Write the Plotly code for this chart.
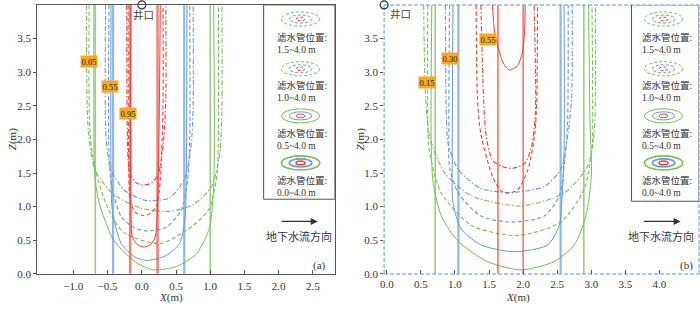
import plotly.graph_objects as go

# ---------------- data ----------------
# Panel (a): contours for the four filter positions; thick lines = 0.0~4.0 m
A_THICK_GREEN = [-0.68, 1.00]
A_THICK_BLUE = [-0.42, 0.62]
A_THICK_RED = [-0.17, 0.23]

A_GREEN_05_X = [-0.70, -0.70, -0.69, -0.63, -0.41, -0.07, 0.17, 0.51, 0.80, 0.99, 1.05, 1.06, 1.05]
A_GREEN_05_Z = [4.00, 2.20, 1.50, 1.08, 0.50, 0.16, 0.06, 0.11, 0.30, 0.69, 1.30, 2.20, 4.00]
A_GREEN_10_X = [-0.77, -0.76, -0.70, -0.51, -0.27, 0.27, 0.75, 0.99, 1.10, 1.12, 1.12]
A_GREEN_10_Z = [4.00, 2.17, 1.64, 1.01, 0.62, 0.45, 0.72, 0.98, 1.50, 2.30, 4.00]
A_GREEN_15_X = [-0.81, -0.78, -0.68, -0.41, -0.02, 0.40, 0.75, 1.02, 1.14, 1.17, 1.17]
A_GREEN_15_Z = [4.00, 2.10, 1.54, 1.18, 0.98, 0.93, 1.03, 1.30, 1.80, 2.40, 4.00]

A_BLUE_05_X = [-0.45, -0.45, -0.43, -0.30, -0.10, 0.07, 0.35, 0.55, 0.63, 0.65, 0.66]
A_BLUE_05_Z = [4.00, 1.50, 0.94, 0.45, 0.25, 0.20, 0.27, 0.45, 0.80, 1.50, 4.00]
A_BLUE_10_X = [-0.48, -0.48, -0.44, -0.30, -0.10, 0.07, 0.35, 0.58, 0.67, 0.70, 0.70]
A_BLUE_10_Z = [4.00, 1.80, 1.30, 0.85, 0.68, 0.64, 0.69, 0.95, 1.40, 2.00, 4.00]
A_BLUE_15_X = [-0.53, -0.52, -0.45, -0.25, 0.07, 0.40, 0.62, 0.72, 0.75, 0.75]
A_BLUE_15_Z = [4.00, 2.00, 1.55, 1.24, 1.09, 1.13, 1.40, 1.90, 2.50, 4.00]

A_RED_05_X = [-0.16, -0.16, -0.14, -0.07, 0.02, 0.12, 0.19, 0.22, 0.25, 0.27]
A_RED_05_Z = [4.00, 0.90, 0.56, 0.44, 0.40, 0.43, 0.53, 0.80, 2.00, 4.00]
A_RED_10_X = [-0.20, -0.19, -0.17, -0.09, 0.02, 0.13, 0.22, 0.27, 0.31, 0.31]
A_RED_10_Z = [4.00, 1.50, 1.08, 0.91, 0.87, 0.90, 1.02, 1.40, 2.50, 4.00]
A_RED_15_X = [-0.22, -0.21, -0.18, -0.09, 0.02, 0.14, 0.24, 0.31, 0.35, 0.35]
A_RED_15_Z = [4.00, 2.00, 1.52, 1.36, 1.32, 1.35, 1.48, 1.90, 2.60, 4.00]

# Panel (b)
B_THICK_GREEN = [0.71, 2.89]
B_THICK_BLUE = [1.05, 2.55]
B_THICK_RED = [1.63, 2.00]

B_GREEN_05_X = [0.66, 0.65, 0.68, 0.80, 1.05, 1.48, 1.97, 2.45, 2.75, 2.92, 3.00, 2.98, 2.96]
B_GREEN_05_Z = [4.00, 2.00, 1.35, 0.86, 0.48, 0.18, 0.06, 0.18, 0.43, 0.86, 1.45, 2.30, 4.00]
B_GREEN_10_X = [0.60, 0.60, 0.62, 0.80, 1.24, 1.92, 2.55, 2.89, 3.01, 3.02, 3.01]
B_GREEN_10_Z = [4.00, 2.30, 1.84, 1.20, 0.72, 0.57, 0.77, 1.25, 1.84, 2.50, 4.00]
B_GREEN_15_X = [0.54, 0.57, 0.63, 0.85, 1.24, 1.97, 2.60, 2.94, 3.04, 3.06, 3.06]
B_GREEN_15_Z = [4.00, 2.60, 2.03, 1.50, 1.16, 1.01, 1.20, 1.59, 2.08, 2.60, 4.00]

B_BLUE_05_X = [0.97, 0.96, 0.97, 1.09, 1.38, 1.87, 2.36, 2.53, 2.57, 2.60, 2.60]
B_BLUE_05_Z = [4.00, 1.80, 1.06, 0.67, 0.43, 0.33, 0.43, 0.72, 1.11, 1.80, 4.00]
B_BLUE_10_X = [0.92, 0.91, 0.92, 1.05, 1.38, 1.82, 2.31, 2.53, 2.60, 2.65, 2.66]
B_BLUE_10_Z = [4.00, 2.20, 1.59, 1.20, 0.86, 0.77, 0.86, 1.16, 1.59, 2.20, 4.00]
B_BLUE_15_X = [0.86, 0.87, 0.90, 1.05, 1.38, 1.82, 2.31, 2.55, 2.65, 2.71, 2.72]
B_BLUE_15_Z = [4.00, 2.50, 1.93, 1.55, 1.27, 1.21, 1.30, 1.55, 2.03, 2.60, 4.00]

B_RED_05_X = [1.55, 1.58, 1.63, 1.70, 1.80, 1.92, 1.99, 2.02, 2.03]
B_RED_05_Z = [4.00, 3.60, 3.39, 3.15, 3.03, 3.10, 3.30, 3.60, 4.00]
B_RED_10_X = [1.31, 1.33, 1.38, 1.55, 1.68, 1.77, 1.92, 2.07, 2.17, 2.20, 2.21]
B_RED_10_Z = [4.00, 2.60, 2.08, 1.45, 1.23, 1.20, 1.25, 1.55, 2.08, 2.60, 4.00]
B_RED_15_X = [1.38, 1.42, 1.46, 1.55, 1.68, 1.84, 2.02, 2.12, 2.18, 2.16]
B_RED_15_Z = [4.00, 2.60, 2.03, 1.69, 1.60, 1.57, 1.64, 1.88, 2.40, 4.00]

A_LABELS = ["0.05", "0.55", "0.95"]
A_LABEL_X = [-0.77, -0.47, -0.20]
A_LABEL_Z = [3.16, 2.78, 2.39]
B_LABELS = ["0.15", "0.30", "0.55"]
B_LABEL_X = [0.59, 0.93, 1.49]
B_LABEL_Z = [2.85, 3.21, 3.49]

FILTER_TEXT = ["1.5~4.0 m", "1.0~4.0 m", "0.5~4.0 m", "0.0~4.0 m"]
A_TICKS = [-1.0, -0.5, 0.0, 0.5, 1.0, 1.5, 2.0, 2.5]
B_TICKS = [0.0, 0.5, 1.0, 1.5, 2.0, 2.5, 3.0, 3.5, 4.0]
Z_TICKS = [0.0, 0.5, 1.0, 1.5, 2.0, 2.5, 3.0, 3.5]

# ---------------- styles ----------------
GREEN = "rgb(122,190,88)"
BLUE = "rgb(104,154,214)"
RED = "rgb(236,66,56)"
GREEN_T = "rgba(122,190,88,0.75)"
BLUE_T = "rgba(104,154,214,0.7)"
RED_T = "rgba(236,66,56,0.65)"
DASH10 = "4px,2.5px"
DASH15 = "5px,2px,1.5px,2px"
SERIF = "Liberation Serif, Noto Sans CJK SC"
CJK = "Noto Sans CJK SC"
TXT = "#333333"

fig = go.Figure()


def curve(xs, zs, color, dash, width, xr, yr):
    fig.add_trace(go.Scatter(x=xs, y=zs, mode="lines", xaxis=xr, yaxis=yr,
                             line=dict(color=color, dash=dash, width=width,
                                       shape="spline", smoothing=0.7),
                             hoverinfo="skip"))


def thick(xs, color, width, xr, yr):
    for xv in xs:
        fig.add_trace(go.Scatter(x=[xv, xv], y=[0.0, 4.0], mode="lines", xaxis=xr, yaxis=yr,
                                 line=dict(color=color, width=width), hoverinfo="skip"))


for (xr, yr, data) in [
    ("x", "y", [
        (A_GREEN_15_X, A_GREEN_15_Z, GREEN, DASH15, 1.1), (A_GREEN_10_X, A_GREEN_10_Z, GREEN, DASH10, 1.1),
        (A_GREEN_05_X, A_GREEN_05_Z, GREEN, "solid", 1.0),
        (A_BLUE_15_X, A_BLUE_15_Z, BLUE, DASH15, 1.1), (A_BLUE_10_X, A_BLUE_10_Z, BLUE, DASH10, 1.1),
        (A_BLUE_05_X, A_BLUE_05_Z, BLUE, "solid", 1.0),
        (A_RED_15_X, A_RED_15_Z, RED, DASH15, 1.1), (A_RED_10_X, A_RED_10_Z, RED, DASH10, 1.1),
        (A_RED_05_X, A_RED_05_Z, RED, "solid", 1.0)]),
    ("x2", "y2", [
        (B_GREEN_15_X, B_GREEN_15_Z, GREEN, DASH15, 1.1), (B_GREEN_10_X, B_GREEN_10_Z, GREEN, DASH10, 1.1),
        (B_GREEN_05_X, B_GREEN_05_Z, GREEN, "solid", 1.0),
        (B_BLUE_15_X, B_BLUE_15_Z, BLUE, DASH15, 1.1), (B_BLUE_10_X, B_BLUE_10_Z, BLUE, DASH10, 1.1),
        (B_BLUE_05_X, B_BLUE_05_Z, BLUE, "solid", 1.0),
        (B_RED_15_X, B_RED_15_Z, RED, DASH15, 1.1), (B_RED_10_X, B_RED_10_Z, RED, DASH10, 1.1),
        (B_RED_05_X, B_RED_05_Z, RED, "solid", 1.0)]),
]:
    for xs, zs, c, d, w in data:
        curve(xs, zs, c, d, w, xr, yr)

thick(A_THICK_GREEN, GREEN_T, 1.6, "x", "y")
thick(A_THICK_BLUE, BLUE_T, 2.2, "x", "y")
thick(A_THICK_RED, RED_T, 2.6, "x", "y")
thick(B_THICK_GREEN, GREEN_T, 1.6, "x2", "y2")
thick(B_THICK_BLUE, BLUE_T, 2.2, "x2", "y2")
thick(B_THICK_RED, RED_T, 1.8, "x2", "y2")

# well heads
fig.add_trace(go.Scatter(x=[0.0], y=[4.0], mode="markers", xaxis="x", yaxis="y", cliponaxis=False,
                         marker=dict(symbol="circle-open", size=8, color="#333", line=dict(width=1.2)),
                         hoverinfo="skip"))
fig.add_trace(go.Scatter(x=[-0.04], y=[4.0], mode="markers", xaxis="x2", yaxis="y2", cliponaxis=False,
                         marker=dict(symbol="circle-open", size=8, color="#333", line=dict(width=1.2)),
                         hoverinfo="skip"))

annotations = []
shapes = []

# contour value labels
for lab, lx, lz in zip(A_LABELS, A_LABEL_X, A_LABEL_Z):
    annotations.append(dict(x=lx, y=lz, xref="x", yref="y", text=lab, showarrow=False,
                            font=dict(family=SERIF, size=8.5, color="#222"), bgcolor="rgb(248,168,36)",
                            borderpad=0.5))
for lab, lx, lz in zip(B_LABELS, B_LABEL_X, B_LABEL_Z):
    annotations.append(dict(x=lx, y=lz, xref="x2", yref="y2", text=lab, showarrow=False,
                            font=dict(family=SERIF, size=8.5, color="#222"), bgcolor="rgb(248,168,36)",
                            borderpad=0.5))

# legend boxes
LEG_STYLES = [(DASH15, 1.0), (DASH10, 1.0), ("solid", 1.0), ("solid", 1.6)]
ELL_Z = [3.79, 3.05, 2.35, 1.65]
TXT_Z = [3.42, 2.715, 2.0, 1.295]
for (xr, yr, bx0, bx1, by0, ecx, tx) in [("x", "y", 1.78, 2.82, 1.11, 2.32, 1.94),
                                         ("x2", "y2", 3.59, 4.58, 1.08, 4.06, 3.72)]:
    shapes.append(dict(type="rect", xref=xr, yref=yr, x0=bx0, x1=bx1, y0=by0, y1=4.0,
                       line=dict(color="#555", width=1), fillcolor="white", layer="above"))
    for i, (dsh, w) in enumerate(LEG_STYLES):
        for c, hw, hh in [(GREEN, 0.28, 0.105), (BLUE, 0.165, 0.06), (RED, 0.065, 0.028)]:
            shapes.append(dict(type="circle", xref=xr, yref=yr, x0=ecx - hw, x1=ecx + hw,
                               y0=ELL_Z[i] - hh, y1=ELL_Z[i] + hh, layer="above",
                               line=dict(color=c, width=w, dash=dsh if dsh == "solid" else "3px,2px")))
        annotations.append(dict(x=tx, y=TXT_Z[i], xref=xr, yref=yr,
                                text="滤水管位置:<br>" + FILTER_TEXT[i], showarrow=False,
                                xanchor="left", yanchor="middle", align="left",
                                font=dict(family=SERIF, size=9.5, color=TXT)))

# flow arrows and texts
for xr, yr, x0, x1, txc, pl, plx in [("x", "y", 2.02, 2.57, 2.30, "(a)", 2.60),
                                     ("x2", "y2", 3.75, 4.31, 4.02, "(b)", 4.40)]:
    annotations.append(dict(x=x1, y=0.78, ax=x0, ay=0.78, xref=xr, yref=yr, axref=xr, ayref=yr,
                            text="", showarrow=True, arrowhead=2, arrowsize=1.0, arrowwidth=1.4,
                            arrowcolor="#333"))
    annotations.append(dict(x=txc, y=0.56, xref=xr, yref=yr, text="地下水流方向", showarrow=False,
                            xanchor="center", yanchor="middle", font=dict(family=CJK, size=11, color=TXT)))
    annotations.append(dict(x=plx, y=0.12, xref=xr, yref=yr, text=pl, showarrow=False,
                            xanchor="center", yanchor="middle", font=dict(family=SERIF, size=11, color=TXT)))

annotations.append(dict(x=0.02, y=3.85, xref="x", yref="y", text="井口", showarrow=False, xanchor="center",
                        yanchor="middle", font=dict(family=CJK, size=10.5, color="#444")))
annotations.append(dict(x=0.02, y=3.87, xref="x2", yref="y2", text="井口", showarrow=False, xanchor="left",
                        yanchor="middle", font=dict(family=CJK, size=10.5, color="#444")))

# axis titles
for tx_, ty_, t_, ang in [(168, 303, "<i>X</i>(m)", 0), (517, 303, "<i>X</i>(m)", 0),
                          (8, 142, "<i>Z</i>(m)", -90), (358, 142, "<i>Z</i>(m)", -90)]:
    annotations.append(dict(x=tx_ / 700, y=1 - ty_ / 309, xref="paper", yref="paper", text=t_,
                            showarrow=False, textangle=ang, xanchor="center", yanchor="middle",
                            font=dict(family=SERIF, size=11, color=TXT)))

# panel (b) dashed frame
for x0, y0, x1, y1 in [(0, 0, 1, 0), (0, 1, 1, 1), (0, 0, 0, 1), (1, 0, 1, 1)]:
    shapes.append(dict(type="line", xref="x2 domain", yref="y2 domain", x0=x0, y0=y0, x1=x1, y1=y1,
                       line=dict(color="rgb(150,185,225)", width=1.5, dash="4px,2px"), layer="below"))

YDOM = [1 - 279.3 / 309, 1 - 5 / 309]
tickfont = dict(family=SERIF, size=11, color=TXT)
common_x = dict(ticks="inside", ticklen=4, tickcolor="#555", showgrid=False, zeroline=False,
                tickfont=tickfont, tickformat=".1f", ticklabelstandoff=2)
common_y = dict(ticks="outside", ticklen=3, tickcolor="#555", showgrid=False, zeroline=False,
                tickfont=tickfont, tickformat=".1f", range=[0, 4.0], tickvals=Z_TICKS)

fig.update_layout(
    width=700, height=309, margin=dict(l=0, r=0, t=0, b=0),
    paper_bgcolor="white", plot_bgcolor="white", showlegend=False,
    xaxis=dict(domain=[33.3 / 700, 332.7 / 700], range=[-1.53, 2.82], tickvals=A_TICKS, anchor="y",
               showline=True, mirror=True, linecolor="#555", linewidth=1, **common_x),
    yaxis=dict(domain=YDOM, anchor="x", showline=True, mirror=True, linecolor="#555", linewidth=1,
               **common_y),
    xaxis2=dict(domain=[382.3 / 700, 699 / 700], range=[-0.04, 4.58], tickvals=B_TICKS, anchor="y2",
                showline=False, **common_x),
    yaxis2=dict(domain=YDOM, anchor="x2", showline=False, **common_y),
    annotations=annotations, shapes=shapes,
)

fig.write_html("out.html", config={"displayModeBar": False},
               post_script="document.body.style.margin='0';document.body.style.padding='0';")
